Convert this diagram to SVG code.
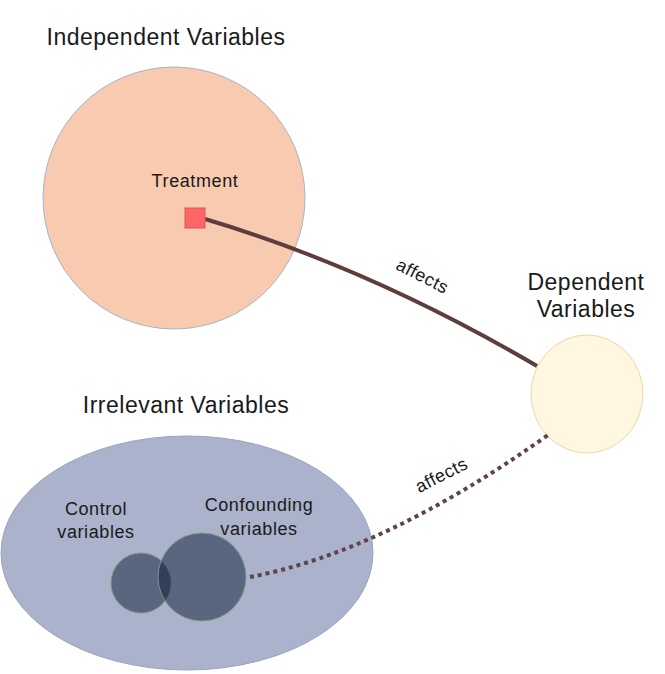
<svg xmlns="http://www.w3.org/2000/svg" width="665" height="674" viewBox="0 0 665 674">
<style>
text{font-family:"Liberation Sans",Arial,sans-serif;fill:#1a1a1a;text-anchor:middle}
.big{font-size:23px;letter-spacing:0.5px}
.mid{font-size:18px;letter-spacing:0.6px}
.lbl{font-size:18px;letter-spacing:0.5px}
.sub{fill:#0a1834;fill-opacity:0.5;stroke:#7d9a80;stroke-width:1}
</style>
<rect width="665" height="674" fill="#ffffff"/>
<g id="independent">
<circle cx="174" cy="198" r="131" fill="#f8cab0" stroke="#a8b4c8" stroke-width="1"/>
<text class="big" x="166" y="45">Independent Variables</text>
</g>
<g id="irrelevant">
<ellipse cx="187" cy="553" rx="186" ry="117" fill="#aab2cc" stroke="#9aa4c0" stroke-width="1"/>
<text class="big" x="186" y="413">Irrelevant Variables</text>
</g>
<g id="control">
<circle class="sub" cx="141" cy="583" r="30"/>
<text class="mid" x="96" y="515">Control</text>
<text class="mid" x="96" y="538">variables</text>
</g>
<g id="confounding">
<circle class="sub" cx="202" cy="577" r="44"/>
<text class="mid" x="259" y="511">Confounding</text>
<text class="mid" x="259" y="535">variables</text>
</g>
<g id="dependent">
<ellipse cx="587" cy="394" rx="56" ry="59" fill="#fff7e2" stroke="#ecd9a0" stroke-width="1"/>
<text class="big" x="586" y="290">Dependent</text>
<text class="big" x="586" y="317">Variables</text>
</g>
<g id="connectors">
<path d="M205,219 Q370,268 537,366" fill="none" stroke="#5e3d3d" stroke-width="4"/>
<path d="M250,577 Q383,552 548,435" fill="none" stroke="#5e4448" stroke-width="4" stroke-dasharray="4 4"/>
<text class="lbl" transform="translate(422,277) rotate(27)" y="5">affects</text>
<text class="lbl" transform="translate(442,476) rotate(-27)" y="5">affects</text>
</g>
<g id="treatment">
<rect x="185" y="208" width="20" height="20" fill="#ff6466" stroke="#d65858" stroke-width="1"/>
<text class="mid" x="195" y="187">Treatment</text>
</g>
</svg>
